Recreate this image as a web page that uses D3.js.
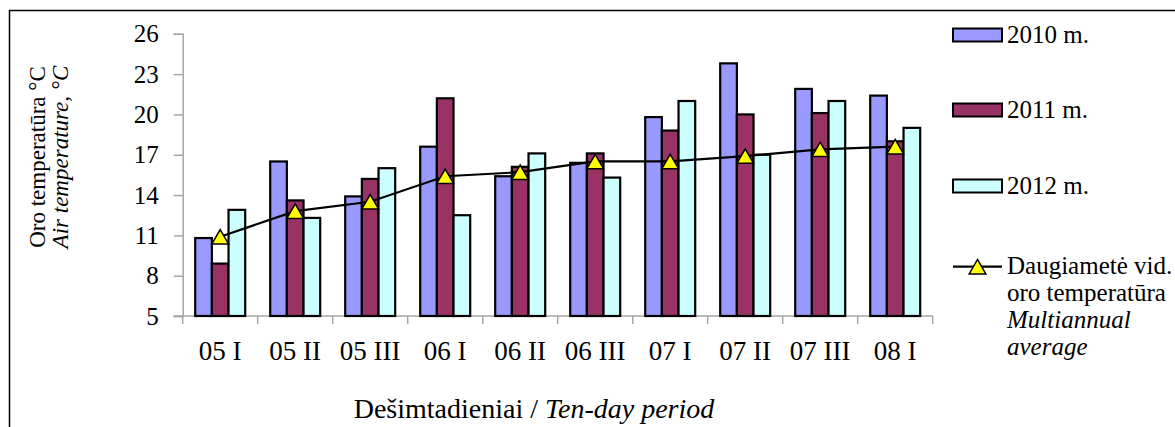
<!DOCTYPE html>
<html>
<head>
<meta charset="utf-8">
<script src="https://cdn.jsdelivr.net/npm/d3@7"></script>
<style>
  html, body { margin: 0; padding: 0; background: #fff; }
  svg { display: block; }
  svg text, svg tspan { font-family: "Liberation Serif", "Times New Roman", serif !important; fill: #000; }
</style>
</head>
<body>
<svg id="chart" width="1175" height="427"></svg>
<script>
// ---- data ----
const categories = ["05 I", "05 II", "05 III", "06 I", "06 II", "06 III", "07 I", "07 II", "07 III", "08 I"];
const seriesNames = ["2010 m.", "2011 m.", "2012 m."];
const values2010 = [10.8, 16.5, 13.9, 17.6, 15.4, 16.4, 19.8, 23.8, 21.9, 21.4];
const values2011 = [8.9, 13.6, 15.2, 21.2, 16.1, 17.1, 18.8, 20.0, 20.1, 18.0];
const values2012 = [12.9, 12.3, 16.0, 12.5, 17.1, 15.3, 21.0, 17.0, 21.0, 19.0];
const multiannual = [10.9, 12.8, 13.5, 15.4, 15.7, 16.5, 16.5, 16.9, 17.4, 17.6];
const yTicks = [5, 8, 11, 14, 17, 20, 23, 26];
const lineLegend = ["Daugiametė vid.", "oro temperatūra", "Multiannual", "average"];

const seriesValues = [values2010, values2011, values2012];
const colors = ["#9999FF", "#993366", "#CCFFFF"];
const FONT = "'Liberation Serif', 'Times New Roman', serif";

const svg = d3.select("#chart");

// outer frame (cropped at right/bottom)
svg.append("rect")
  .attr("x", 9.5).attr("y", 10.5)
  .attr("width", 1200).attr("height", 450)
  .attr("fill", "none").attr("stroke", "#000").attr("stroke-width", 1.5);

const plotLeft = 182.7, plotRight = 932.7, plotTop = 33.8, plotBottom = 316;

const y = d3.scaleLinear().domain([5, 26]).range([plotBottom, plotTop]);
const x0 = d3.scaleBand().domain(categories).range([plotLeft, plotRight])
  .paddingInner(1/3).paddingOuter(1/6);
const x1 = d3.scaleBand().domain(seriesNames).range([0, x0.bandwidth()]);
const xBound = d3.scaleLinear().domain([0, categories.length]).range([plotLeft, plotRight]);

const axisColor = "#a6a6a6";

// y axis
const yAxis = d3.axisLeft(y).tickValues(yTicks).tickSize(9).tickPadding(15);
const gy = svg.append("g").attr("transform", `translate(${plotLeft},0)`).call(yAxis)
  .attr("font-family", FONT);
gy.select(".domain").attr("stroke", axisColor).attr("stroke-width", 1.5);
gy.selectAll(".tick line").attr("stroke", axisColor).attr("stroke-width", 1.5);
gy.selectAll(".tick text").attr("font-size", 25).style("font-family", FONT).attr("fill", "#000");

// x axis line & boundary ticks
svg.append("line")
  .attr("x1", plotLeft - 9).attr("x2", plotRight)
  .attr("y1", plotBottom).attr("y2", plotBottom)
  .attr("stroke", axisColor).attr("stroke-width", 1.5);
svg.append("g").selectAll("line")
  .data(d3.range(categories.length + 1))
  .join("line")
  .attr("x1", d => xBound(d)).attr("x2", d => xBound(d))
  .attr("y1", plotBottom).attr("y2", plotBottom + 8)
  .attr("stroke", axisColor).attr("stroke-width", 1.5);

// x tick labels
svg.append("g").selectAll("text")
  .data(categories)
  .join("text")
  .attr("x", d => x0(d) + x0.bandwidth() / 2)
  .attr("y", 360)
  .attr("text-anchor", "middle")
  .attr("font-size", 27)
  .style("font-family", FONT)
  .text(d => d);

// bars
const groups = svg.append("g").selectAll("g")
  .data(categories)
  .join("g")
  .attr("transform", d => `translate(${x0(d)},0)`);
groups.selectAll("rect")
  .data((d, i) => seriesNames.map((s, k) => ({ s, k, v: seriesValues[k][i] })))
  .join("rect")
  .attr("x", d => x1(d.s))
  .attr("width", x1.bandwidth())
  .attr("y", d => y(d.v))
  .attr("height", d => y(5) - y(d.v))
  .attr("fill", d => colors[d.k])
  .attr("stroke", "#000")
  .attr("stroke-width", 2.2);

// multiannual line
const line = d3.line()
  .x((d, i) => x0(categories[i]) + x0.bandwidth() / 2)
  .y(d => y(d));
svg.append("path")
  .datum(multiannual)
  .attr("d", line)
  .attr("fill", "none")
  .attr("stroke", "#000")
  .attr("stroke-width", 2.2);

const tri = d3.symbol().type(d3.symbolTriangle).size(120);
svg.append("g").selectAll("path")
  .data(multiannual)
  .join("path")
  .attr("d", tri)
  .attr("transform", (d, i) => `translate(${x0(categories[i]) + x0.bandwidth() / 2},${y(d) + 2.4})`)
  .attr("fill", "#FFFF00")
  .attr("stroke", "#000")
  .attr("stroke-width", 1.5);

// y axis title
const yTitle = svg.append("text")
  .attr("transform", "translate(45,157) rotate(-90)")
  .attr("text-anchor", "middle")
  .attr("font-size", 23)
  .style("font-family", FONT);
yTitle.append("tspan").attr("x", 0).attr("y", 0).text("Oro temperatūra °C");
yTitle.append("tspan").attr("x", 0).attr("y", 23).attr("font-style", "italic").text("Air temperature, °C");

// x axis title
const xTitle = svg.append("text")
  .attr("x", 534).attr("y", 418)
  .attr("text-anchor", "middle")
  .attr("font-size", 28)
  .style("font-family", FONT);
xTitle.append("tspan").text("Dešimtadieniai / ");
xTitle.append("tspan").attr("font-style", "italic").text("Ten-day period");

// legend
const legX = 953;
const legendRows = [35, 110, 186];
const lg = svg.append("g");
seriesNames.forEach((s, k) => {
  lg.append("rect")
    .attr("x", legX).attr("y", legendRows[k] - 6.5)
    .attr("width", 49).attr("height", 13)
    .attr("fill", colors[k]).attr("stroke", "#000").attr("stroke-width", 2);
  lg.append("text")
    .attr("x", 1007).attr("y", legendRows[k] + 8)
    .attr("font-size", 25)
    .style("font-family", FONT)
    .text(s);
});
const lineLegY = 266.7;
lg.append("line")
  .attr("x1", legX).attr("x2", legX + 49)
  .attr("y1", lineLegY).attr("y2", lineLegY)
  .attr("stroke", "#000").attr("stroke-width", 2.2);
lg.append("path")
  .attr("d", tri)
  .attr("transform", `translate(${legX + 24.5},${lineLegY + 2.4})`)
  .attr("fill", "#FFFF00").attr("stroke", "#000").attr("stroke-width", 1.5);
const legBase = [274, 301, 328, 355];
lineLegend.forEach((t, i) => {
  lg.append("text")
    .attr("x", 1007).attr("y", legBase[i])
    .attr("font-size", 25)
    .attr("font-style", i >= 2 ? "italic" : "normal")
    .style("font-family", FONT)
    .text(t);
});
</script>
</body>
</html>
